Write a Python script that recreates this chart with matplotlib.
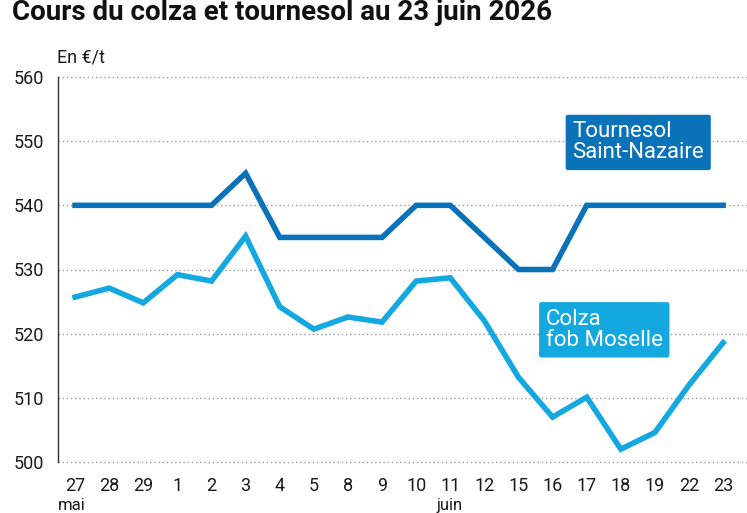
import matplotlib
matplotlib.use('Agg')
import matplotlib.pyplot as plt

plt.rcParams['font.family'] = ['Roboto', 'DejaVu Sans']

# dates (mai / juin)
days = ['27', '28', '29', '1', '2', '3', '4', '5', '8', '9',
        '10', '11', '12', '15', '16', '17', '18', '19', '22', '23']
tournesol = [540, 540, 540, 540, 540, 545, 535, 535, 535, 535,
             540, 540, 535, 530, 530, 540, 540, 540, 540, 540]
colza = [525.7, 527.1, 524.8, 529.2, 528.2, 535.2, 524.2, 520.7, 522.6, 521.8,
         528.2, 528.7, 522.0, 513.2, 507.0, 510.1, 502.0, 504.6, 512.0, 518.6]
yticks = [500, 510, 520, 530, 540, 550, 560]

c_tour = '#0a72b8'
c_colza = '#14a8e0'

fig = plt.figure(figsize=(7.47, 5.13), dpi=100)
ax = fig.add_axes([58 / 747, 51 / 513, 689 / 747, 385 / 513])

x = list(range(len(days)))
ax.plot(x, tournesol, color=c_tour, lw=4, solid_joinstyle='miter', zorder=3)
ax.plot(x, colza, color=c_colza, lw=4, solid_joinstyle='miter', zorder=3)

ax.set_xlim(-0.5, 19.7)
ax.set_ylim(500, 560)
ax.set_yticks(yticks)
ax.set_xticks(x)
ax.set_xticklabels(days)

# dotted grid
for v in yticks:
    ax.axhline(v, color='#9a9a9a', lw=1, ls=(0, (1, 2)), zorder=1, clip_on=False)

for s in ['top', 'right', 'bottom']:
    ax.spines[s].set_visible(False)
ax.spines['left'].set_color('#333333')
ax.spines['left'].set_linewidth(1)
ax.tick_params(axis='both', length=0, labelsize=13, colors='#1a1a1a')
ax.tick_params(axis='x', pad=11)
ax.tick_params(axis='y', pad=10)

# series labels
ax.text(14.58, 549.8, 'Tournesol\nSaint-Nazaire', color='white', fontsize=16,
        va='center', ha='left', linespacing=1.0, zorder=4,
        bbox=dict(boxstyle='round,pad=0.3,rounding_size=0.1', fc=c_tour, ec='none'))
ax.text(13.8, 520.6, 'Colza\nfob Moselle', color='white', fontsize=16,
        va='center', ha='left', linespacing=1.0, zorder=4,
        bbox=dict(boxstyle='round,pad=0.3,rounding_size=0.1', fc=c_colza, ec='none'))

fig.text(12 / 747, 1 - 13 / 513, 'Cours du colza et tournesol au 23 juin 2026',
         fontsize=20, fontweight='bold', va='center', ha='left', color='#111111')
fig.text(57 / 747, 1 - 57 / 513, 'En €/t', fontsize=13, va='center', ha='left',
         color='#1a1a1a')

# month labels under the first day of each month
fig.text(58 / 747, 1 - 498 / 513, 'mai', fontsize=12, va='top', ha='left', color='#1a1a1a')
fig.text(437 / 747, 1 - 498 / 513, 'juin', fontsize=12, va='top', ha='left', color='#1a1a1a')

fig.savefig('out.png', dpi=100)
